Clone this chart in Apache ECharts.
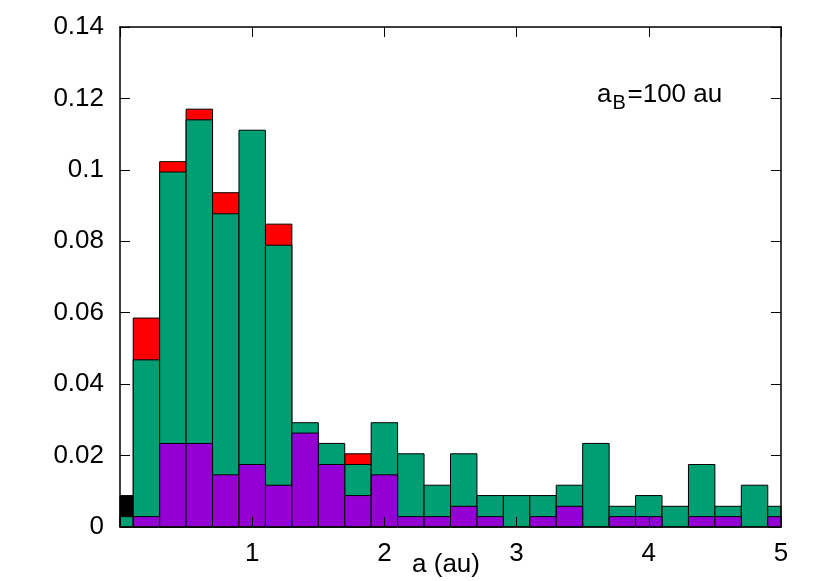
<!DOCTYPE html>
<html>
<head>
<meta charset="utf-8">
<script src="https://cdn.jsdelivr.net/npm/echarts@6/dist/echarts.min.js"></script>
<style>
html,body{margin:0;padding:0;background:#fff;}
#chart{width:830px;height:581px;}
</style>
</head>
<body>
<div id="chart"></div>
<script>
// Bin centres (au), bin width 0.2
const binCenters = [0.0, 0.2, 0.4, 0.6, 0.8, 1.0, 1.2, 1.4, 1.6, 1.8, 2.0, 2.2, 2.4, 2.6, 2.8, 3.0, 3.2, 3.4, 3.6, 3.8, 4.0, 4.2, 4.4, 4.6, 4.8, 5.0];
// Top of each coloured histogram (overlaid, drawn back to front)
const blackTop  = [0.0088, 0, 0, 0, 0, 0, 0, 0, 0, 0, 0, 0, 0, 0, 0, 0, 0, 0, 0, 0, 0, 0, 0, 0, 0, 0];
const redTop    = [0, 0.0585, 0.1023, 0.1170, 0.0936, 0, 0.0848, 0, 0, 0.0205, 0, 0, 0, 0, 0, 0, 0, 0, 0, 0, 0, 0, 0, 0, 0, 0];
const greenTop  = [0.0029, 0.0468, 0.0994, 0.1140, 0.0877, 0.1111, 0.0789, 0.0292, 0.0234, 0.0175, 0.0292, 0.0205, 0.0117, 0.0205, 0.0088, 0.0088, 0.0088, 0.0117, 0.0234, 0.0058, 0.0088, 0.0058, 0.0175, 0.0058, 0.0117, 0.0058];
const purpleTop = [0, 0.0029, 0.0234, 0.0234, 0.0146, 0.0175, 0.0117, 0.0263, 0.0175, 0.0088, 0.0146, 0.0029, 0.0029, 0.0058, 0.0029, 0, 0.0029, 0.0058, 0, 0.0029, 0.0029, 0, 0.0029, 0.0029, 0, 0.0029];
const xAxisName = 'a (au)';
const noteMain = 'a';
const noteSub = 'B';
const noteRest = '=100 au';

const BIN = 0.2;
const FONT = "'Liberation Sans', Arial, Helvetica, sans-serif";

function histSeries(name, tops, color) {
  return {
    type: 'custom',
    name: name,
    data: binCenters.map((x, i) => [x, tops[i]]),
    encode: { x: 0, y: 1 },
    renderItem: function (params, api) {
      const x = api.value(0), y = api.value(1);
      if (!(y > 0)) return null;
      const p0 = api.coord([x - BIN / 2, 0]);
      const p1 = api.coord([x + BIN / 2, y]);
      const cs = params.coordSys;
      const rect = echarts.graphic.clipRectByRect(
        { x: p0[0], y: p1[1], width: p1[0] - p0[0], height: p0[1] - p1[1] },
        { x: cs.x, y: cs.y, width: cs.width, height: cs.height }
      );
      if (!rect) return null;
      return { type: 'rect', shape: rect, style: { fill: color, stroke: '#000', lineWidth: 1 } };
    }
  };
}

const chart = echarts.init(document.getElementById('chart'), null, { renderer: 'canvas' });
const axisLine = { show: true, onZero: false, lineStyle: { color: '#000', width: 1.5 } };
chart.setOption({
  animation: false,
  backgroundColor: '#fff',
  grid: { left: 120, right: 49, top: 27, bottom: 54, containLabel: false, outerBoundsMode: 'none' },
  xAxis: [
    {
      type: 'value', position: 'bottom', min: 0, max: 5, interval: 1, z: 10,
      axisLine: axisLine,
      axisTick: { show: true, inside: true, length: 10, lineStyle: { color: '#000', width: 1 } },
      axisLabel: { show: true, color: '#000', fontFamily: FONT, fontSize: 26, margin: 14,
        formatter: v => (v === 0 ? '' : String(v)) },
      splitLine: { show: false },
      name: xAxisName, nameLocation: 'middle', nameGap: 25, nameMoveOverlap: false,
      nameTextStyle: { color: '#000', fontFamily: FONT, fontSize: 26, padding: [0, 9, 0, 0] }
    },
    {
      type: 'value', position: 'top', min: 0, max: 5, interval: 1, z: 10,
      axisLine: axisLine,
      axisTick: { show: true, inside: true, length: 10, lineStyle: { color: '#000', width: 1 } },
      axisLabel: { show: false },
      splitLine: { show: false }
    }
  ],
  yAxis: [
    {
      type: 'value', position: 'left', min: 0, max: 0.14, interval: 0.02, z: 10,
      axisLine: axisLine,
      axisTick: { show: true, inside: true, length: 10, lineStyle: { color: '#000', width: 1 } },
      axisLabel: { show: true, color: '#000', fontFamily: FONT, fontSize: 26, margin: 16 },
      splitLine: { show: false }
    },
    {
      type: 'value', position: 'right', min: 0, max: 0.14, interval: 0.02, z: 10,
      axisLine: axisLine,
      axisTick: { show: true, inside: true, length: 10, lineStyle: { color: '#000', width: 1 } },
      axisLabel: { show: false },
      splitLine: { show: false }
    }
  ],
  series: [
    histSeries('black', blackTop, '#000000'),
    histSeries('red', redTop, '#ff0000'),
    histSeries('green', greenTop, '#009e73'),
    histSeries('purple', purpleTop, '#9400d3')
  ],
  graphic: [
    { type: 'text', x: 597, y: 94.5, z: 20,
      style: { text: noteMain, font: '26px ' + FONT, fill: '#000', align: 'left', verticalAlign: 'middle' } },
    { type: 'text', x: 612.5, y: 103, z: 20,
      style: { text: noteSub, font: '20px ' + FONT, fill: '#000', align: 'left', verticalAlign: 'middle' } },
    { type: 'text', x: 627.5, y: 94.5, z: 20,
      style: { text: noteRest, font: '26px ' + FONT, fill: '#000', align: 'left', verticalAlign: 'middle' } }
  ]
});
</script>
</body>
</html>
